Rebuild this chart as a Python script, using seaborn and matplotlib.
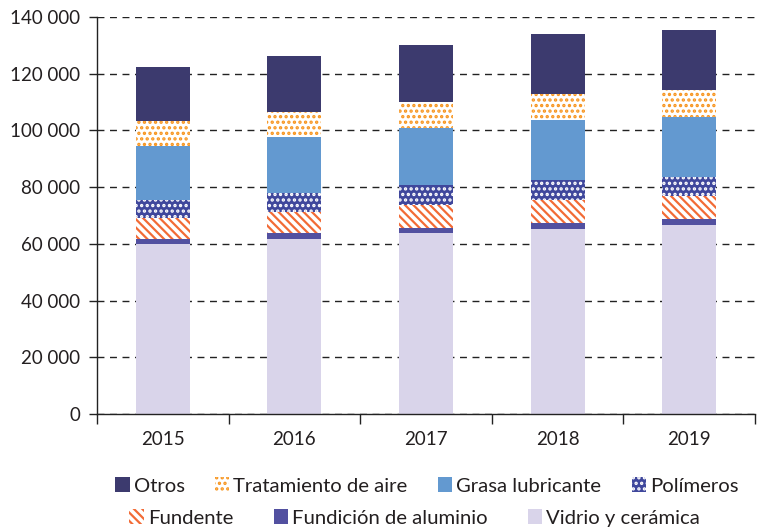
import numpy as np
import matplotlib
matplotlib.use('Agg')
import matplotlib.pyplot as plt
import seaborn as sns

# data, stacked bottom -> top
years = ['2015', '2016', '2017', '2018', '2019']
vidrio = [59800, 61800, 63700, 65300, 66600]
aluminio = [1800, 2000, 2000, 2000, 2000]
fundente = [7600, 7300, 7900, 8200, 8400]
polimeros = [6400, 7000, 7000, 6900, 6700]
grasa = [19000, 19500, 20300, 21100, 21200]
tratamiento = [8700, 8800, 9000, 9400, 9200]
otros = [19100, 19700, 20300, 21000, 21400]

sns.set_style('white')
plt.rcParams['font.family'] = ['Lato', 'DejaVu Sans']
plt.rcParams['hatch.linewidth'] = 1.6
text_color = '#231f20'

fig = plt.figure(figsize=(7.61, 5.29), dpi=100)
ax = fig.add_axes([0.1275, 0.2174, 0.8645, 0.7505])

# name, values, face, hatch colour, hatch
layers = [
    ('Vidrio y cerámica', vidrio, '#d9d4ea', None, None),
    ('Fundición de aluminio', aluminio, '#5250a0', None, None),
    ('Fundente', fundente, 'white', '#f26b36', '\\\\\\\\'),
    ('Polímeros', polimeros, '#3f479c', 'white', '...'),
    ('Grasa lubricante', grasa, '#6399d0', None, None),
    ('Tratamiento de aire', tratamiento, 'white', '#f7941d', '...'),
    ('Otros', otros, '#3c3a6e', None, None),
]

handles = {}
bottom = np.zeros(len(years))
for name, vals, face, hcol, hatch in layers:
    kw = dict(linewidth=0)
    if hatch:
        kw.update(hatch=hatch, edgecolor=hcol)
    sns.barplot(x=years, y=vals, bottom=bottom, color=face, saturation=1,
                width=0.41, ax=ax, **kw)
    handles[name] = ax.containers[-1]
    bottom = bottom + np.array(vals)

ax.set_ylim(0, 140000)
ax.set_xlim(-0.5, 4.5)
ax.set_yticks(range(0, 140001, 20000))
ax.set_yticklabels([f'{v:,}'.replace(',', ' ') for v in range(0, 140001, 20000)])
ax.set_axisbelow(True)
ax.yaxis.grid(True, linestyle=(0, (5, 4)), color='#222222', linewidth=1)
ax.xaxis.grid(False)
ax.set_xticks([0.5 + i for i in range(-1, 5)], minor=True)
ax.tick_params(axis='x', which='major', length=0, pad=12, labelsize=13.5, colors=text_color)
ax.tick_params(axis='x', which='minor', length=7, width=1, color='#222222', bottom=True)
ax.tick_params(axis='y', length=6, width=1, left=True, color='#222222', labelsize=13.5,
               labelcolor=text_color, pad=6)
for s in ['top', 'right']:
    ax.spines[s].set_visible(False)
for s in ['left', 'bottom']:
    ax.spines[s].set_color('#222222')
    ax.spines[s].set_linewidth(1)

row1 = ['Otros', 'Tratamiento de aire', 'Grasa lubricante', 'Polímeros']
row2 = ['Fundente', 'Fundición de aluminio', 'Vidrio y cerámica']
leg_kw = dict(frameon=False, fontsize=14.6, handlelength=0.7, handleheight=0.7,
              handletextpad=0.2, labelcolor=text_color,
              borderaxespad=0, borderpad=0)
fig.legend([handles[n] for n in row1], row1, ncol=4, loc='center', columnspacing=1.5,
           bbox_to_anchor=(0.561, 1 - 486 / 529), **leg_kw)
fig.legend([handles[n] for n in row2], row2, ncol=3, loc='center', columnspacing=2.0,
           bbox_to_anchor=(0.545, 1 - 518 / 529), **leg_kw)

fig.savefig('out.png', dpi=100)
